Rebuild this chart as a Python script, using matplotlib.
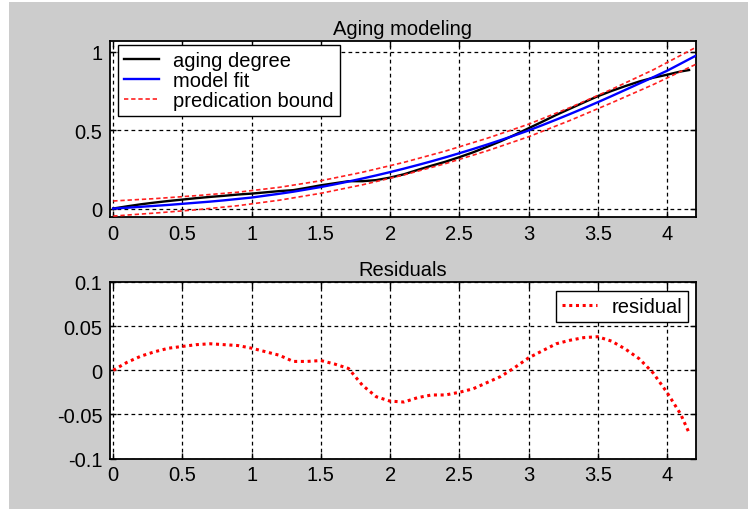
import matplotlib
matplotlib.use("Agg")
import matplotlib.pyplot as plt
from matplotlib.patches import Rectangle

plt.rcParams['font.family'] = ['Liberation Sans', 'DejaVu Sans']

# ---------------- data ----------------
x_fit = [0.0, 0.1, 0.2, 0.3, 0.4, 0.5, 0.6, 0.7, 0.8, 0.9, 1.0, 1.1, 1.2, 1.3, 1.4,
         1.5, 1.6, 1.7, 1.8, 1.9, 2.0, 2.1, 2.2, 2.3, 2.4, 2.5, 2.6, 2.7, 2.8, 2.9,
         3.0, 3.1, 3.2, 3.3, 3.4, 3.5, 3.6, 3.7, 3.8, 3.9, 4.0, 4.1, 4.21]
model_fit = [0.003, 0.008, 0.014, 0.020, 0.026, 0.033, 0.040, 0.047, 0.055, 0.064,
             0.073, 0.085, 0.097, 0.110, 0.125, 0.140, 0.157, 0.175, 0.194, 0.214,
             0.235, 0.257, 0.280, 0.304, 0.329, 0.355, 0.382, 0.410, 0.439, 0.469,
             0.500, 0.534, 0.569, 0.605, 0.642, 0.680, 0.719, 0.759, 0.799, 0.839,
             0.880, 0.926, 0.977]

x_data = [0.0, 0.1, 0.2, 0.3, 0.4, 0.5, 0.6, 0.7, 0.8, 0.9, 1.0, 1.1, 1.2, 1.3, 1.4,
          1.5, 1.6, 1.7, 1.8, 1.9, 2.0, 2.1, 2.2, 2.3, 2.4, 2.5, 2.6, 2.7, 2.8, 2.9,
          3.0, 3.1, 3.2, 3.3, 3.4, 3.5, 3.6, 3.7, 3.8, 3.9, 4.0, 4.1, 4.16]
aging_degree = [0.003, 0.017, 0.030, 0.041, 0.051, 0.060, 0.069, 0.077, 0.084, 0.092,
                0.098, 0.106, 0.114, 0.120, 0.135, 0.151, 0.164, 0.177, 0.177, 0.184,
                0.200, 0.221, 0.249, 0.276, 0.301, 0.330, 0.361, 0.396, 0.432, 0.472,
                0.514, 0.556, 0.599, 0.639, 0.679, 0.718, 0.752, 0.783, 0.812, 0.836,
                0.855, 0.876, 0.885]
residual = [0.000, 0.009, 0.016, 0.021, 0.025, 0.027, 0.029, 0.030, 0.029, 0.028,
            0.025, 0.021, 0.017, 0.010, 0.010, 0.011, 0.007, 0.002, -0.017, -0.030,
            -0.035, -0.036, -0.031, -0.028, -0.028, -0.025, -0.021, -0.014, -0.007, 0.003,
            0.014, 0.022, 0.030, 0.034, 0.037, 0.038, 0.033, 0.024, 0.013, -0.003,
            -0.025, -0.050, -0.071]

x_bound = [0.0, 0.3, 0.6, 0.9, 1.2, 1.5, 1.8, 2.1, 2.4, 2.7, 3.0, 3.3, 3.6, 3.9, 4.21]
upper_bound = [0.051, 0.066, 0.085, 0.107, 0.138, 0.180, 0.234, 0.297, 0.369, 0.450,
               0.540, 0.646, 0.762, 0.886, 1.030]
lower_bound = [-0.045, -0.026, -0.005, 0.021, 0.056, 0.100, 0.154, 0.217, 0.289, 0.370,
               0.460, 0.564, 0.676, 0.792, 0.922]

x_ticks = [0, 0.5, 1, 1.5, 2, 2.5, 3, 3.5, 4]
x_ticklabels = ['0', '0.5', '1', '1.5', '2', '2.5', '3', '3.5', '4']
y1_ticks = [0, 0.5, 1]
y1_ticklabels = ['0', '0.5', '1']
y2_ticks = [-0.1, -0.05, 0, 0.05, 0.1]
y2_ticklabels = ['-0.1', '-0.05', '0', '0.05', '0.1']

# ---------------- figure ----------------
W, H = 748, 510
fig = plt.figure(figsize=(W / 100, H / 100), dpi=100, facecolor='white')
fig.patches.append(Rectangle((9 / W, 0), 1 - 9 / W, 1 - 3 / H, transform=fig.transFigure,
                             facecolor='#cccccc', edgecolor='none', zorder=-10))

FS = 14.5
grid_kw = dict(color='black', linewidth=0.9, linestyle=(0, (3, 2.6)))


def style_axes(ax, yticks, yticklabels):
    ax.set_facecolor('white')
    ax.set_xlim(-0.027, 4.21)
    ax.set_xticks(x_ticks)
    ax.set_xticklabels(x_ticklabels)
    ax.set_yticks(yticks)
    ax.set_yticklabels(yticklabels)
    ax.grid(True, **grid_kw)
    ax.tick_params(direction='in', length=4, width=1, top=True, right=True,
                   labelsize=FS, pad=5, colors='black')
    for s in ax.spines.values():
        s.set_linewidth(1.3)
        s.set_color('black')


ax1 = fig.add_axes([109.5 / W, 1 - 218 / H, 586.5 / W, 176 / H])
ax1.plot(x_data, aging_degree, color='black', lw=1.7, label='aging degree', zorder=3)
ax1.plot(x_fit, model_fit, color='#0000ff', lw=1.7, label='model fit', zorder=4)
ax1.plot(x_bound, upper_bound, color='#ff2020', lw=1.2, linestyle=(0, (2.6, 1.7)),
         label='predication bound', zorder=5)
ax1.plot(x_bound, lower_bound, color='#ff2020', lw=1.2, linestyle=(0, (2.6, 1.7)), zorder=5)
ax1.set_ylim(-0.051, 1.07)
style_axes(ax1, y1_ticks, y1_ticklabels)
ax1.set_title('Aging modeling', fontsize=FS, pad=5)
leg1 = ax1.legend(loc='upper left', bbox_to_anchor=(0.0145, 0.977), borderaxespad=0,
                  fontsize=FS, handlelength=1.75, handletextpad=0.7, borderpad=0.3,
                  labelspacing=0.05, fancybox=False, framealpha=1, edgecolor='black')
leg1.get_frame().set_linewidth(1.0)

ax2 = fig.add_axes([109.5 / W, 1 - 459.5 / H, 586.5 / W, 176.5 / H])
ax2.plot(x_data, residual, color='#ff0000', lw=2.2, linestyle=(0, (1, 1.2)), label='residual')
ax2.set_ylim(-0.1, 0.1)
style_axes(ax2, y2_ticks, y2_ticklabels)
ax2.set_title('Residuals', fontsize=FS, pad=5)
leg2 = ax2.legend(loc='upper right', bbox_to_anchor=(0.9864, 0.949), borderaxespad=0,
                  fontsize=FS, handlelength=1.75, handletextpad=0.7, borderpad=0.3,
                  fancybox=False, framealpha=1, edgecolor='black')
leg2.get_frame().set_linewidth(1.0)

fig.savefig('out.png', dpi=100, facecolor=fig.get_facecolor())
